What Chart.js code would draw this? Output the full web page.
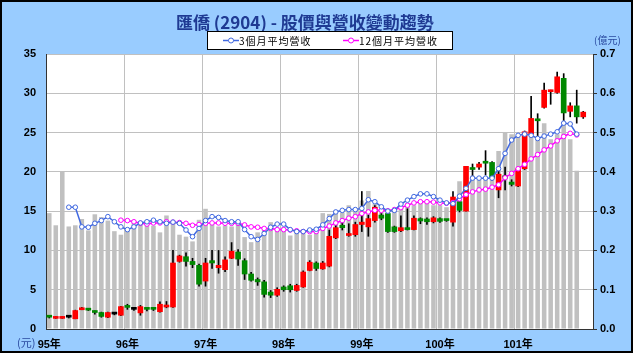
<!DOCTYPE html>
<html lang="zh-Hant">
<head>
<meta charset="UTF-8">
<title>匯僑 (2904) - 股價與營收變動趨勢</title>
<script src="https://cdn.jsdelivr.net/npm/chart.js"></script>
<style>
  body { margin: 0; background: #fff; }
  #wrap { position: relative; width: 635px; height: 357px; }
  #frame { position: absolute; left: 0; top: 0; width: 629px; height: 349px; border: 2px solid #000; background: #99ccff; }
  #chart { position: absolute; left: 0; top: 0; }
  .txt { position: absolute; white-space: nowrap; font-family: "Noto Sans CJK TC", sans-serif; }
  #title { left: 176px; top: 9px; font-size: 17px; font-weight: bold; color: #1f3a93; }
  #legend { left: 207px; top: 31px; width: 244px; height: 17px; border: 1px solid #000; background: #fff; }
  #legend .lab { position: absolute; top: 1px; font-size: 10px; color: #000; letter-spacing: 1px; }
  #legend svg { position: absolute; top: 4px; }
  #unitR { left: 594px; top: 32px; font-size: 10px; color: #2a4aa0; }
  #unitL { left: 17px; top: 334px; font-size: 11px; color: #2a4aa0; }
</style>
</head>
<body>
<div id="wrap">
  <div id="frame"></div>
  <canvas id="chart" width="635" height="357"></canvas>
  <div class="txt" id="title">匯僑 (2904) - 股價與營收變動趨勢</div>
  <div class="txt" id="legend">
    <svg width="16" height="9" style="left:15px"><line x1="0" y1="4.5" x2="16" y2="4.5" stroke="#4169e1" stroke-width="1.5"/><circle cx="8" cy="4.5" r="2.5" fill="#fff" stroke="#4169e1" stroke-width="1"/></svg>
    <span class="lab" style="left:31px">3個月平均營收</span>
    <svg width="16" height="9" style="left:135px"><line x1="0" y1="4.5" x2="16" y2="4.5" stroke="#ff00ff" stroke-width="1.5"/><circle cx="8" cy="4.5" r="2.5" fill="#fff" stroke="#ff00ff" stroke-width="1"/></svg>
    <span class="lab" style="left:151px">12個月平均營收</span>
  </div>
  <div class="txt" id="unitR">(億元)</div>
  <div class="txt" id="unitL">(元)</div>
</div>

<script>
  // 年度 (每年 12 個月)
  const years = ['95年', '96年', '97年', '98年', '99年', '100年', '101年'];

  // 月K線 (元)
  const priceOpen = [1.6, 1.35, 1.35, 1.5, 1.3, 2.45, 2.55, 2.2, 2.1, 1.5,
    1.9, 1.75, 3.0, 2.5, 2.05, 2.6, 2.6, 2.2, 2.8, 2.8,
    8.6, 9.2, 8.6, 8.1, 6.1, 8.7, 7.8, 7.55, 9.0, 9.8,
    8.7, 7.0, 6.3, 6.0, 4.7, 4.3, 5.35, 5.5, 4.9, 5.35,
    7.45, 8.4, 7.65, 8.0, 11.6, 13.2, 11.9, 12.0, 13.3, 13.0,
    13.8, 14.5, 14.7, 13.0, 12.5, 12.9, 12.65, 14.05, 14.0, 13.65,
    14.05, 13.9, 13.6, 16.2, 15.0, 20.5, 20.6, 21.3, 21.2, 17.7,
    19.5, 18.7, 18.2, 20.4, 24.8, 26.7, 28.2, 30.2, 30.1, 31.9,
    27.7, 28.4, 27.0];
  const priceClose = [1.5, 1.6, 1.6, 1.5, 2.35, 2.65, 2.4, 2.1, 1.6, 2.1,
    1.9, 2.85, 2.75, 2.5, 2.85, 2.5, 2.5, 3.15, 3.05, 8.4,
    9.3, 8.6, 8.2, 5.7, 8.4, 8.4, 8.1, 8.8, 9.9, 8.9,
    7.0, 6.2, 6.0, 4.4, 4.3, 5.05, 5.0, 5.0, 5.55, 7.25,
    8.5, 7.7, 8.4, 11.8, 12.9, 12.9, 12.15, 13.3, 13.6, 14.05,
    15.5, 14.1, 12.4, 12.4, 12.9, 12.65, 14.1, 13.75, 13.65, 14.15,
    13.7, 13.8, 16.8, 15.1, 20.7, 20.3, 21.0, 21.1, 19.2, 19.7,
    19.2, 18.4, 20.4, 25.1, 26.8, 26.5, 30.4, 30.3, 32.1, 27.5,
    28.4, 27.0, 27.6];
  const priceHigh = [1.7, 1.6, 1.6, 1.65, 2.4, 2.75, 2.6, 2.3, 2.15, 2.15,
    2.0, 2.9, 3.15, 2.6, 3.0, 2.7, 2.65, 3.45, 3.5, 10.0,
    9.4, 9.7, 9.0, 8.25, 9.0, 10.0, 10.0, 9.2, 11.0, 10.1,
    8.95, 7.2, 6.5, 6.2, 4.9, 5.25, 5.5, 5.7, 5.7, 7.4,
    8.7, 8.55, 8.6, 12.6, 13.3, 14.05, 13.4, 13.6, 17.5, 14.5,
    15.7, 14.7, 14.8, 13.1, 14.4, 15.3, 14.4, 14.15, 14.15, 14.3,
    14.15, 13.95, 17.5, 16.4, 20.7, 21.0, 21.2, 22.7, 21.3, 20.7,
    20.6, 19.0, 20.5, 25.2, 29.6, 27.4, 31.3, 30.4, 32.7, 32.5,
    28.8, 30.4, 27.7];
  const priceLow = [1.4, 1.35, 1.35, 1.4, 1.3, 2.45, 2.35, 1.9, 1.5, 1.45,
    1.8, 1.7, 2.5, 2.35, 1.75, 2.3, 2.35, 2.15, 2.7, 2.75,
    8.5, 8.0, 7.8, 5.45, 5.45, 7.7, 7.1, 7.3, 8.95, 8.1,
    6.3, 6.1, 5.55, 4.05, 4.0, 4.15, 4.8, 4.7, 4.8, 5.3,
    7.4, 7.45, 7.6, 7.9, 11.5, 12.6, 11.8, 11.8, 12.4, 11.8,
    13.6, 13.9, 12.3, 12.3, 12.4, 12.6, 12.6, 13.4, 13.3, 13.5,
    13.55, 13.7, 13.1, 14.9, 15.0, 19.4, 20.3, 19.6, 18.9, 16.7,
    17.7, 18.2, 18.1, 20.3, 24.7, 24.6, 28.1, 28.6, 30.0, 26.4,
    27.0, 26.2, 26.8];

  // 月營收 (億元)
  const revenue = [0.295, 0.264, 0.40, 0.261, 0.264, 0.28, 0.251, 0.292, 0.285, 0.276,
    0.249, 0.240, 0.253, 0.276, 0.269, 0.277, 0.263, 0.246, 0.289, 0.271,
    0.240, 0.235, 0.223, 0.278, 0.306, 0.268, 0.261, 0.263, 0.261, 0.272,
    0.234, 0.221, 0.246, 0.255, 0.272, 0.258, 0.259, 0.238, 0.246, 0.242,
    0.240, 0.251, 0.295, 0.293, 0.302, 0.297, 0.315, 0.304, 0.327, 0.351,
    0.319, 0.297, 0.293, 0.304, 0.323, 0.319, 0.315, 0.323, 0.323, 0.315,
    0.315, 0.31, 0.325, 0.376, 0.37, 0.39, 0.385, 0.38, 0.40, 0.453,
    0.50, 0.496, 0.49, 0.496, 0.496, 0.483, 0.524, 0.483, 0.496, 0.52,
    0.483, 0.403];
  const avg3 = [null, null, null, 0.31, 0.31, 0.26, 0.259, 0.269, 0.276, 0.286,
    0.273, 0.26, 0.253, 0.26, 0.27, 0.273, 0.277, 0.273, 0.269, 0.272,
    0.269, 0.252, 0.235, 0.256, 0.276, 0.286, 0.284, 0.276, 0.273, 0.273,
    0.253, 0.235, 0.228, 0.243, 0.259, 0.267, 0.267, 0.253, 0.248, 0.248,
    0.252, 0.254, 0.265, 0.281, 0.298, 0.302, 0.304, 0.304, 0.307, 0.329,
    0.324, 0.311, 0.30, 0.302, 0.318, 0.328, 0.337, 0.344, 0.344, 0.337,
    0.328, 0.321, 0.319, 0.338, 0.358, 0.384, 0.384, 0.384, 0.384, 0.408,
    0.447, 0.481, 0.493, 0.496, 0.493, 0.485, 0.491, 0.496, 0.502, 0.524,
    0.522, 0.496];
  const avg12 = [null, null, null, null, null, null, null, null, null, null,
    null, 0.277, 0.276, 0.273, 0.269, 0.267, 0.27, 0.27, 0.273, 0.272,
    0.271, 0.269, 0.264, 0.266, 0.269, 0.27, 0.27, 0.269, 0.269, 0.269,
    0.265, 0.26, 0.259, 0.256, 0.256, 0.253, 0.253, 0.252, 0.25, 0.248,
    0.248, 0.248, 0.256, 0.262, 0.27, 0.276, 0.282, 0.286, 0.294, 0.298,
    0.302, 0.302, 0.301, 0.304, 0.309, 0.315, 0.321, 0.324, 0.324, 0.323,
    0.321, 0.32, 0.322, 0.331, 0.342, 0.349, 0.354, 0.356, 0.361, 0.367,
    0.385, 0.396, 0.408, 0.419, 0.433, 0.444, 0.456, 0.466, 0.479, 0.49,
    0.498, 0.494];

  const labels = [];
  years.forEach(y => { for (let m = 1; m <= 12; m++) labels.push(y + m + '月'); });

  const bodies = priceOpen.map((o, i) => [o, priceClose[i]]);
  const wicks = priceLow.map((l, i) => [l, priceHigh[i]]);
  const bodyColors = priceOpen.map((o, i) =>
    priceClose[i] > o ? '#ff0000' : (priceClose[i] < o ? '#008800' : '#000000'));

  const tickFont = { family: "'Liberation Sans', 'Noto Sans CJK TC', sans-serif", size: 11, weight: 'bold' };

  const plotBg = {
    id: 'plotBg',
    beforeDraw(chart) {
      const a = chart.chartArea, c = chart.ctx;
      c.save();
      c.fillStyle = '#fff';
      c.fillRect(a.left, a.top, a.right - a.left, a.bottom - a.top);
      c.restore();
    }
  };

  new Chart(document.getElementById('chart'), {
    type: 'bar',
    data: {
      labels: labels,
      datasets: [
        {
          type: 'line', label: '3個月平均營收', data: avg3, yAxisID: 'y1',
          borderColor: '#4169e1', borderWidth: 1.5, pointRadius: 2.3,
          pointBackgroundColor: '#fff', pointBorderColor: '#4169e1', pointBorderWidth: 1
        },
        {
          type: 'line', label: '12個月平均營收', data: avg12, yAxisID: 'y1',
          borderColor: '#ff00ff', borderWidth: 1.5, pointRadius: 2.3,
          pointBackgroundColor: '#fff', pointBorderColor: '#ff00ff', pointBorderWidth: 1
        },
        {
          label: 'body', data: bodies, yAxisID: 'y', grouped: false,
          backgroundColor: bodyColors, barThickness: 5, minBarLength: 2
        },
        {
          label: 'wick', data: wicks, yAxisID: 'y', grouped: false,
          backgroundColor: '#000', barThickness: 1
        },
        {
          label: '月營收', data: revenue, yAxisID: 'y1', grouped: false,
          backgroundColor: '#c0c0c0', barPercentage: 0.7, categoryPercentage: 1
        }
      ]
    },
    options: {
      responsive: false,
      animation: false,
      devicePixelRatio: 1,
      layout: { padding: { top: 54, left: 0, right: 0, bottom: 0 } },
      plugins: { legend: { display: false }, tooltip: { enabled: false } },
      scales: {
        x: {
          offset: true,
          grid: {
            offset: true, drawTicks: false,
            color: ctx => (ctx.index !== undefined && ctx.index % 12 === 0) ? '#c0c0c0' : 'rgba(0,0,0,0)'
          },
          border: { color: '#333', width: 1 },
          ticks: {
            autoSkip: false, maxRotation: 0, color: '#000', font: tickFont, padding: 9,
            callback: (v, i) => i % 12 === 0 ? years[i / 12] : ''
          },
          afterFit: s => { s.height = 28; }
        },
        y: {
          position: 'left', min: 0, max: 35,
          ticks: { stepSize: 5, color: '#000', font: tickFont, padding: 10 },
          grid: { color: '#c0c0c0', drawTicks: false },
          border: { color: '#333', width: 1 },
          afterFit: s => { s.width = 46; }
        },
        y1: {
          position: 'right', min: 0, max: 0.7,
          ticks: { stepSize: 0.1, color: '#000', font: tickFont, padding: 3, callback: v => v.toFixed(1) },
          grid: { drawOnChartArea: false, tickLength: 4, color: '#333' },
          border: { color: '#333', width: 1 },
          afterFit: s => { s.width = 42; }
        }
      }
    },
    plugins: [plotBg]
  });
</script>
</body>
</html>
